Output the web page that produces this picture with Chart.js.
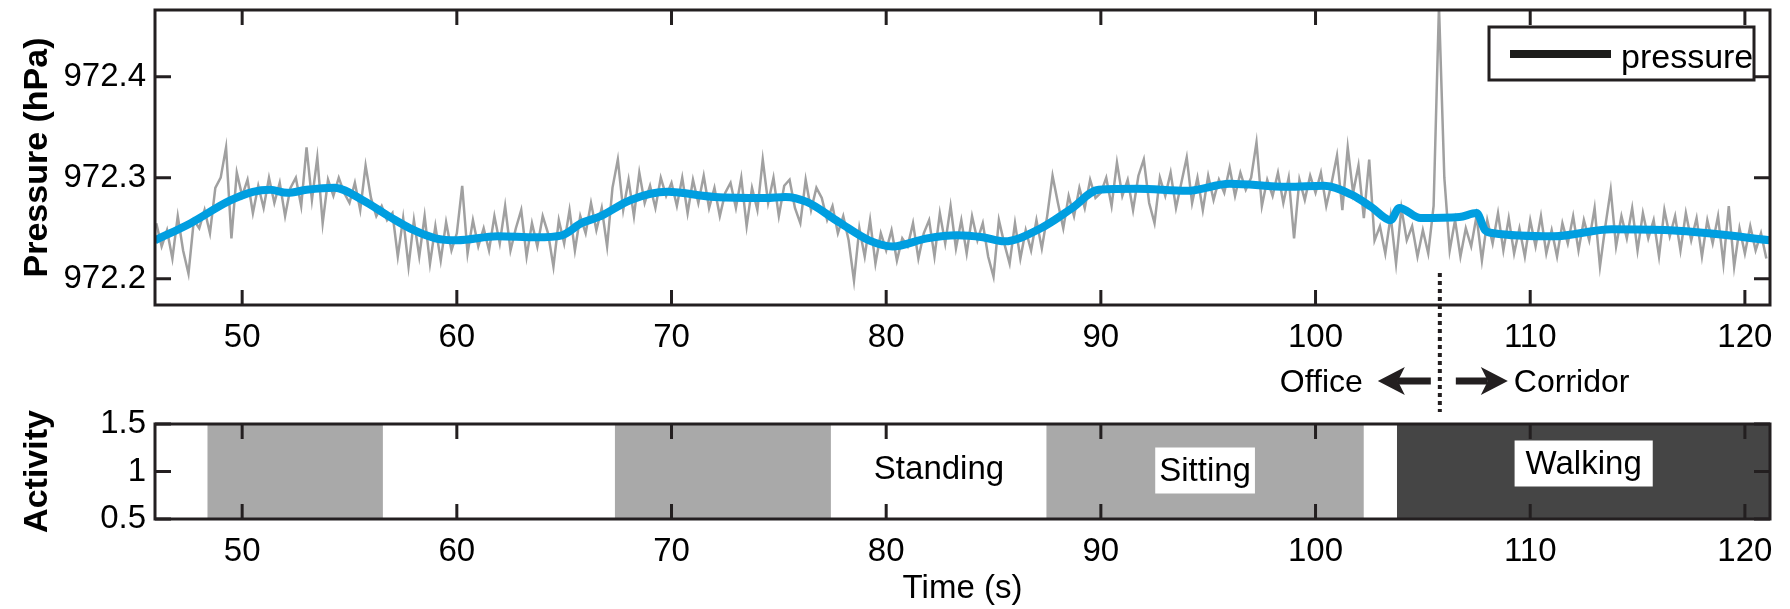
<!DOCTYPE html>
<html>
<head>
<meta charset="utf-8">
<script src="https://cdn.jsdelivr.net/npm/chart.js@4.4.1/dist/chart.umd.min.js"></script>
<style>
  html, body { margin: 0; padding: 0; background: #fff; }
  #wrap { position: relative; width: 1790px; height: 609px; }
  canvas { position: absolute; left: 0; }
  #pressure-chart { top: 0; }
  #activity-chart { top: 370px; }
</style>
</head>
<body>
<div id="wrap">
  <canvas id="pressure-chart" width="1790" height="420"></canvas>
  <canvas id="activity-chart" width="1790" height="239"></canvas>
</div>
<script>
// Axis ranges and tick labels
const timeRange = [45.94, 121.17];
const timeTicks = [50, 60, 70, 80, 90, 100, 110, 120];
const pressureRange = [972.174, 972.466];
const pressureTicks = [972.2, 972.3, 972.4];
const activityRange = [0.5, 1.5];
const activityTicks = [0.5, 1, 1.5];

// Smoothed pressure (blue)
const smoothTime = [45.94, 47.6, 49.4, 50.5, 51.3, 52.1, 53.0, 54.3, 55.6, 56.9, 58.0, 59.0, 60.0,
  61.9, 63.7, 64.9, 65.8, 66.7, 68.1, 69.8, 72.0, 74.4, 75.3, 76.3, 77.8, 79.2, 80.3, 81.9, 83.3,
  84.5, 85.5, 87.2, 88.6, 89.9, 91.7, 94.0, 96.0, 98.7, 100.4, 101.7, 102.6, 103.5, 103.9, 104.9,
  106.7, 107.5, 107.9, 108.3, 111.1, 113.8, 116.5, 118.3, 121.2];
const smoothPressure = [972.238, 972.255, 972.277, 972.286, 972.288, 972.285, 972.288, 972.290,
  972.278, 972.261, 972.248, 972.240, 972.238, 972.242, 972.241, 972.243, 972.255, 972.262,
  972.278, 972.286, 972.281, 972.280, 972.281, 972.276, 972.256, 972.238, 972.232, 972.240,
  972.243, 972.241, 972.237, 972.250, 972.269, 972.288, 972.289, 972.287, 972.294, 972.291,
  972.292, 972.283, 972.271, 972.258, 972.270, 972.260, 972.261, 972.265, 972.248, 972.245,
  972.242, 972.249, 972.248, 972.245, 972.238];

// Raw pressure samples (grey), one every 0.25 s from 46 s
const rawStart = 46;
const rawStep = 0.25;
const rawPressure = [
  972.255, 972.232, 972.248, 972.220,
  972.262, 972.228, 972.205, 972.258,
  972.250, 972.268, 972.245, 972.290,
  972.300, 972.330, 972.240, 972.305,
  972.282, 972.298, 972.265, 972.292,
  972.270, 972.300, 972.275, 972.295,
  972.262, 972.290, 972.300, 972.272,
  972.330, 972.278, 972.320, 972.255,
  972.298, 972.282, 972.300, 972.285,
  972.275, 972.295, 972.268, 972.312,
  972.280, 972.262, 972.272, 972.258,
  972.265, 972.222, 972.260, 972.212,
  972.258, 972.222, 972.262, 972.215,
  972.252, 972.218, 972.256, 972.228,
  972.245, 972.292, 972.225, 972.258,
  972.232, 972.250, 972.228, 972.262,
  972.235, 972.272, 972.228, 972.250,
  972.268, 972.222, 972.255, 972.232,
  972.262, 972.245, 972.212, 972.258,
  972.235, 972.268, 972.228, 972.262,
  972.245, 972.275, 972.248, 972.270,
  972.232, 972.290, 972.318, 972.268,
  972.298, 972.262, 972.305, 972.275,
  972.292, 972.270, 972.300, 972.282,
  972.295, 972.272, 972.300, 972.265,
  972.298, 972.275, 972.302, 972.270,
  972.290, 972.262, 972.285, 972.295,
  972.270, 972.300, 972.252, 972.290,
  972.268, 972.318, 972.275, 972.300,
  972.262, 972.292, 972.298, 972.270,
  972.255, 972.298, 972.268, 972.290,
  972.280, 972.258, 972.272, 972.245,
  972.262, 972.238, 972.198, 972.250,
  972.222, 972.258, 972.215, 972.245,
  972.228, 972.248, 972.218, 972.240,
  972.232, 972.255, 972.220, 972.245,
  972.258, 972.222, 972.265, 972.235,
  972.272, 972.230, 972.258, 972.225,
  972.262, 972.238, 972.255, 972.222,
  972.202, 972.258, 972.235, 972.215,
  972.255, 972.220, 972.248, 972.228,
  972.258, 972.230, 972.262, 972.302,
  972.275, 972.250, 972.282, 972.262,
  972.290, 972.270, 972.298, 972.280,
  972.285, 972.300, 972.272, 972.315,
  972.282, 972.298, 972.268, 972.302,
  972.318, 972.275, 972.255, 972.300,
  972.282, 972.305, 972.270, 972.295,
  972.320, 972.275, 972.300, 972.268,
  972.302, 972.278, 972.298, 972.285,
  972.310, 972.282, 972.305, 972.288,
  972.300, 972.335, 972.272, 972.298,
  972.282, 972.305, 972.275, 972.300,
  972.240, 972.298, 972.278, 972.302,
  972.285, 972.305, 972.272, 972.295,
  972.322, 972.268, 972.330, 972.285,
  972.312, 972.260, 972.318, 972.238,
  972.252, 972.225, 972.262, 972.215,
  972.270, 972.238, 972.252, 972.222,
  972.248, 972.225, 972.272, 972.470,
  972.300, 972.228, 972.258, 972.222,
  972.250, 972.232, 972.262, 972.218,
  972.258, 972.235, 972.265, 972.228,
  972.260, 972.225, 972.250, 972.222,
  972.258, 972.232, 972.262, 972.225,
  972.248, 972.222, 972.255, 972.235,
  972.262, 972.228, 972.258, 972.238,
  972.270, 972.212, 972.252, 972.288,
  972.232, 972.262, 972.240, 972.270,
  972.228, 972.265, 972.240, 972.258,
  972.222, 972.268, 972.242, 972.262,
  972.228, 972.265, 972.238, 972.260,
  972.222, 972.258, 972.235, 972.262,
  972.215, 972.272, 972.212, 972.250,
  972.225, 972.252, 972.228, 972.245,
  972.220
];

// Room change
const roomChangeTime = 105.79;

// Activity segments
const segStart = [48.40, 67.38, 77.44, 87.48, 103.81];
const segEnd = [56.54, 77.44, 87.48, 102.23, 121.17];
const segActivity = ['Sitting', 'Sitting', 'Standing', 'Sitting', 'Walking'];
const segLabelled = [false, false, true, true, true];

const AXIS_COLOR = '#231f20';
const FONT = '"Liberation Sans", Arial, Helvetica, sans-serif';
const activityColor = { Sitting: '#a9a9a9', Standing: '#ffffff', Walking: '#454545' };
const labelShift = { Standing: -3, Sitting: -1, Walking: -8 };

Chart.defaults.font.family = FONT;
Chart.defaults.font.size = 33;
Chart.defaults.color = '#000';

// MATLAB-like box with inward ticks on all four sides
const frameTicks = {
    id: 'frameTicks',
    afterDatasetsDraw(chart) {
        const {ctx, chartArea: a, scales: {x, y}} = chart;
        ctx.save();
        ctx.strokeStyle = AXIS_COLOR;
        ctx.lineWidth = 3;
        ctx.beginPath();
        x.ticks.forEach(t => {
            const px = x.getPixelForValue(t.value);
            ctx.moveTo(px, a.bottom); ctx.lineTo(px, a.bottom - 15);
            ctx.moveTo(px, a.top); ctx.lineTo(px, a.top + 15);
        });
        y.ticks.forEach(t => {
            const py = y.getPixelForValue(t.value);
            ctx.moveTo(a.left, py); ctx.lineTo(a.left + 16, py);
            ctx.moveTo(a.right, py); ctx.lineTo(a.right - 16, py);
        });
        ctx.stroke();
        ctx.strokeRect(a.left, a.top, a.right - a.left, a.bottom - a.top);
        ctx.restore();
    }
};

function drawArrow(ctx, x0, x1, y) {
    const dir = Math.sign(x1 - x0);
    ctx.beginPath();
    ctx.moveTo(x0, y);
    ctx.lineTo(x1 - dir * 20, y);
    ctx.lineWidth = 7;
    ctx.stroke();
    ctx.beginPath();
    ctx.moveTo(x1, y);
    ctx.lineTo(x1 - dir * 27, y - 14);
    ctx.lineTo(x1 - dir * 20, y);
    ctx.lineTo(x1 - dir * 27, y + 14);
    ctx.closePath();
    ctx.fill();
}

// Legend box, room-change marker and labels
const pressureExtras = {
    id: 'pressureExtras',
    afterDraw(chart) {
        const {ctx, chartArea: a, scales: {x}} = chart;
        ctx.save();
        // legend
        const lx = a.right - 281, ly = a.top + 17;
        ctx.fillStyle = '#fff';
        ctx.fillRect(lx, ly, 265, 53);
        ctx.strokeStyle = AXIS_COLOR;
        ctx.lineWidth = 3;
        ctx.strokeRect(lx, ly, 265, 53);
        ctx.beginPath();
        ctx.moveTo(lx + 21, ly + 27);
        ctx.lineTo(lx + 122, ly + 27);
        ctx.lineWidth = 8;
        ctx.strokeStyle = '#1d1d1b';
        ctx.stroke();
        ctx.fillStyle = '#000';
        ctx.font = '34px ' + FONT;
        ctx.textBaseline = 'alphabetic';
        ctx.textAlign = 'left';
        ctx.fillText('pressure', lx + 132, ly + 41);

        // room change marker
        const px = x.getPixelForValue(roomChangeTime);
        ctx.beginPath();
        ctx.setLineDash([4, 4]);
        ctx.moveTo(px, a.bottom - 32);
        ctx.lineTo(px, a.bottom + 107);
        ctx.lineWidth = 4;
        ctx.strokeStyle = AXIS_COLOR;
        ctx.stroke();
        ctx.setLineDash([]);

        const ay = a.bottom + 76;
        ctx.fillStyle = AXIS_COLOR;
        drawArrow(ctx, px - 9, px - 62, ay);
        drawArrow(ctx, px + 16, px + 68, ay);
        ctx.fillStyle = '#000';
        ctx.font = '32px ' + FONT;
        ctx.textBaseline = 'middle';
        ctx.textAlign = 'right';
        ctx.fillText('Office', px - 77, ay + 2);
        ctx.textAlign = 'left';
        ctx.fillText('Corridor', px + 74, ay + 2);
        ctx.restore();
    }
};

// Activity names on the segments
const activityLabels = {
    id: 'activityLabels',
    afterDatasetsDraw(chart) {
        const {ctx, chartArea: a, scales: {x}} = chart;
        ctx.save();
        ctx.font = '33px ' + FONT;
        ctx.textAlign = 'center';
        ctx.textBaseline = 'middle';
        segStart.forEach((s, i) => {
            if (!segLabelled[i]) return;
            const label = segActivity[i];
            const cx = (x.getPixelForValue(s) + x.getPixelForValue(segEnd[i])) / 2;
            const cy = (a.top + a.bottom) / 2 + labelShift[label];
            const w = ctx.measureText(label).width;
            if (label !== 'Standing') {
                ctx.fillStyle = '#fff';
                const pad = label === 'Walking' ? 11 : 4;
                ctx.fillRect(cx - w / 2 - pad, cy - 23, w + 2 * pad, 46);
            }
            ctx.fillStyle = '#000';
            ctx.fillText(label, cx, cy + 1);
        });
        ctx.restore();
    }
};

function fixedTicks(values) {
    return scale => { scale.ticks = values.map(v => ({value: v})); };
}

// Pressure Chart
new Chart(document.getElementById('pressure-chart'), {
    type: 'line',
    data: {
        datasets: [{
            label: 'pressure',
            data: smoothTime.map((t, i) => ({x: t, y: smoothPressure[i]})),
            borderColor: '#009ee0',
            borderWidth: 8,
            pointRadius: 0,
            cubicInterpolationMode: 'monotone',
            order: 0,
            clip: 0
        }, {
            label: 'raw',
            data: rawPressure.map((p, i) => ({x: rawStart + i * rawStep, y: p})),
            borderColor: '#a0a0a0',
            borderWidth: 2.5,
            pointRadius: 0,
            tension: 0,
            order: 1,
            clip: 0
        }]
    },
    options: {
        responsive: false,
        animation: false,
        devicePixelRatio: 1,
        layout: { padding: { top: 10, right: 20, left: 0, bottom: 0 } },
        plugins: { legend: { display: false }, tooltip: { enabled: false } },
        scales: {
            x: {
                type: 'linear', min: timeRange[0], max: timeRange[1],
                afterBuildTicks: fixedTicks(timeTicks),
                afterFit: s => { s.height = 115; s.paddingLeft = 0; s.paddingRight = 0; },
                grid: { display: false, drawTicks: false },
                border: { display: false },
                ticks: { padding: 13, maxRotation: 0, autoSkip: false }
            },
            y: {
                type: 'linear', min: pressureRange[0], max: pressureRange[1],
                afterBuildTicks: fixedTicks(pressureTicks),
                afterFit: s => { s.width = 155; s.paddingTop = 0; s.paddingBottom = 0; },
                grid: { display: false, drawTicks: false },
                border: { display: false },
                ticks: { padding: 9, autoSkip: false, callback: v => v.toFixed(1) },
                title: { display: true, text: 'Pressure (hPa)', font: { size: 34, weight: 'bold' }, padding: { top: 17, bottom: 0 } }
            }
        }
    },
    plugins: [frameTicks, pressureExtras]
});

// Activity Chart
new Chart(document.getElementById('activity-chart'), {
    type: 'bar',
    data: {
        datasets: [{
            label: 'activity',
            data: segStart.map((s, i) => ({x: [s, segEnd[i]], y: 1})),
            backgroundColor: segActivity.map(a => activityColor[a]),
            borderWidth: 0,
            barThickness: 95,
            clip: 0
        }]
    },
    options: {
        indexAxis: 'y',
        responsive: false,
        animation: false,
        devicePixelRatio: 1,
        layout: { padding: { top: 54, right: 20, left: 0, bottom: 0 } },
        plugins: { legend: { display: false }, tooltip: { enabled: false } },
        scales: {
            x: {
                type: 'linear', min: timeRange[0], max: timeRange[1], offset: false,
                afterBuildTicks: fixedTicks(timeTicks),
                afterFit: s => { s.height = 90; s.paddingLeft = 0; s.paddingRight = 0; },
                grid: { display: false, drawTicks: false },
                border: { display: false },
                ticks: { padding: 13, maxRotation: 0, autoSkip: false },
                title: { display: true, text: 'Time (s)', font: { size: 33 }, padding: { top: 0, bottom: 0 } }
            },
            y: {
                type: 'linear', min: activityRange[0], max: activityRange[1], offset: false,
                afterBuildTicks: fixedTicks(activityTicks),
                afterFit: s => { s.width = 155; s.paddingTop = 0; s.paddingBottom = 0; },
                grid: { display: false, drawTicks: false },
                border: { display: false },
                ticks: { padding: 9, autoSkip: false, callback: v => String(v) },
                title: { display: true, text: 'Activity', font: { size: 34, weight: 'bold' }, padding: { top: 17, bottom: 0 } }
            }
        }
    },
    plugins: [frameTicks, activityLabels]
});
</script>
</body>
</html>
